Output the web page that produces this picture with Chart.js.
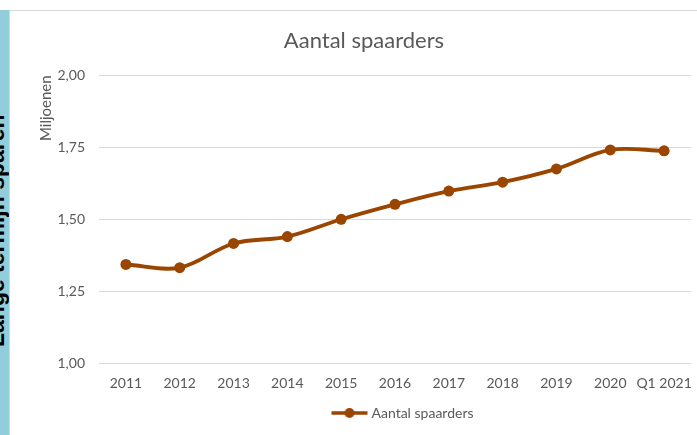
<!DOCTYPE html>
<html>
<head>
<meta charset="utf-8">
<script src="https://cdn.jsdelivr.net/npm/chart.js@4"></script>
<style>
  body { margin: 0; background: #ffffff; width: 697px; height: 435px; overflow: hidden; position: relative; font-family: Lato, sans-serif; }
  #strip { position: absolute; left: 0; top: 10px; width: 9px; height: 425px; background: #92cddc; overflow: hidden; }
  #strip span { position: absolute; left: -17px; top: 97px; height: 240px; writing-mode: vertical-rl; transform: rotate(180deg); font: bold 23px "Liberation Sans", sans-serif; color: #000; white-space: nowrap; }
  #box { position: absolute; left: 9px; top: 10px; width: 688px; height: 425px; border-top: 1px solid #d9d9d9; border-left: 1px solid #d9d9d9; box-sizing: border-box; }
</style>
</head>
<body>
<div id="strip"><span>Lange termijn sparen</span></div>
<div id="box"><canvas id="myChart" width="687" height="424"></canvas></div>
<script>
const jaren = ['2011', '2012', '2013', '2014', '2015', '2016', '2017', '2018', '2019', '2020', 'Q1 2021'];
const spaarders = [1.343, 1.332, 1.416, 1.440, 1.500, 1.552, 1.598, 1.629, 1.675, 1.741, 1.738];
const yTicks = [1.00, 1.25, 1.50, 1.75, 2.00];

const bruin = '#9a4500';
const grijs = '#595959';

// legend icoon: lijn met punt (links wat lege ruimte zodat de tekst dichter aansluit)
const icoon = document.createElement('canvas');
icoon.width = 44; icoon.height = 12;
const ic = icoon.getContext('2d');
ic.strokeStyle = bruin; ic.lineWidth = 3.5;
ic.beginPath(); ic.moveTo(4, 6); ic.lineTo(40, 6); ic.stroke();
ic.fillStyle = bruin;
ic.beginPath(); ic.arc(22, 6, 5, 0, Math.PI * 2); ic.fill();

// legenda net als in Excel iets naar rechts (midden van het plotgebied)
const legendaVerschuiving = {
    id: 'legendaVerschuiving',
    afterLayout(chart) {
        if (chart.legend) chart.legend.left += 80;
    }
};

const ctx = document.getElementById('myChart');

new Chart(ctx, {
    type: 'line',
    data: {
        labels: jaren,
        datasets: [{
            label: 'Aantal spaarders',
            data: spaarders,
            borderColor: bruin,
            backgroundColor: bruin,
            borderWidth: 3.8,
            pointRadius: 5.5,
            pointBackgroundColor: bruin,
            pointBorderWidth: 0,
            tension: 0.35
        }]
    },
    plugins: [legendaVerschuiving],
    options: {
        responsive: false,
        animation: false,
        devicePixelRatio: 1,
        layout: { padding: { left: 27, right: 6, top: 0, bottom: 5 } },
        scales: {
            y: {
                min: 1,
                max: 2,
                afterBuildTicks: (s) => { s.ticks = yTicks.map(v => ({ value: v })); },
                afterFit: (s) => { s.width = 62; },
                ticks: {
                    color: grijs,
                    font: { family: 'Lato', size: 14 },
                    padding: 14,
                    callback: (v) => v.toFixed(2).replace('.', ',')
                },
                grid: { color: '#d9d9d9', lineWidth: 1, drawTicks: false },
                border: { display: false },
                title: {
                    display: true,
                    text: 'Miljoenen',
                    align: 'end',
                    color: grijs,
                    font: { family: 'Lato', size: 15 },
                    padding: 0
                }
            },
            x: {
                offset: true,
                grid: { display: false },
                border: { display: false },
                ticks: {
                    color: grijs,
                    font: { family: 'Lato', size: 14 },
                    padding: 4,
                    maxRotation: 0,
                    autoSkip: false
                }
            }
        },
        plugins: {
            title: {
                display: true,
                text: 'Aantal spaarders',
                color: grijs,
                font: { family: 'Lato', size: 22, weight: 'normal' },
                padding: { top: 17, bottom: 21 }
            },
            legend: {
                position: 'bottom',
                labels: {
                    color: grijs,
                    font: { family: 'Lato', size: 14 },
                    usePointStyle: true,
                    pointStyleWidth: 30,
                    padding: 10,
                    generateLabels: () => [{
                        text: 'Aantal spaarders',
                        pointStyle: icoon,
                        fontColor: grijs,
                        datasetIndex: 0,
                        hidden: false
                    }]
                }
            },
            tooltip: { enabled: false }
        }
    }
});
</script>
</body>
</html>
